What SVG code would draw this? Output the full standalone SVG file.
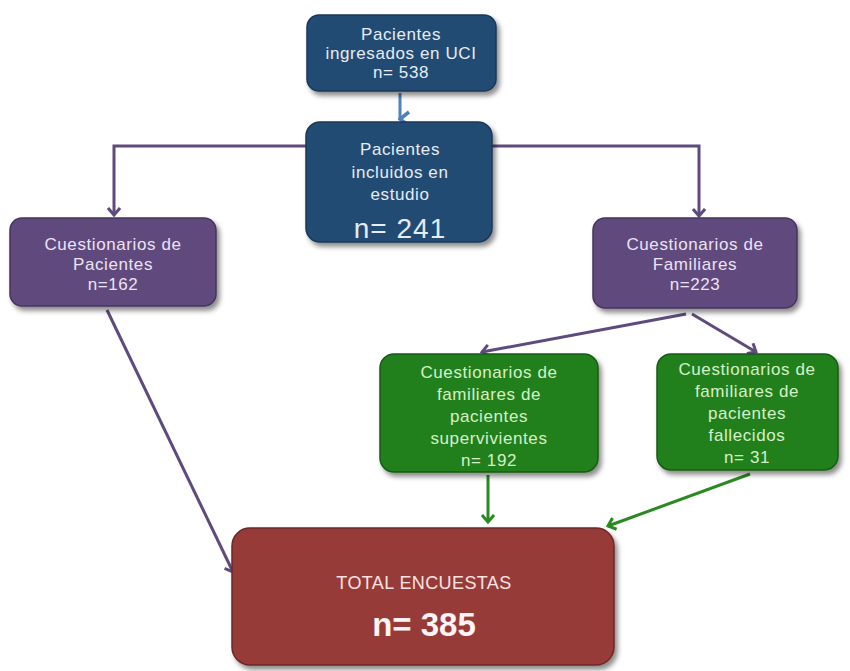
<svg xmlns="http://www.w3.org/2000/svg" width="850" height="671" viewBox="0 0 850 671">
<style>
.box{stroke-width:1.5}
.blue{fill:#244b73;stroke:#1a3757}
.purple{fill:#60497c;stroke:#46345c}
.green{fill:#22801f;stroke:#175c15}
.red{fill:#973a37;stroke:#6e2826}
text{font-family:"Liberation Sans",Arial,sans-serif;text-anchor:middle;font-size:17px;letter-spacing:0.6px}
.tb{fill:#e6ecf4}
.tp{fill:#ebe3f5}
.tg{fill:#d4f0c8}
.tr{fill:#fbe3e3}
.conn{fill:none;stroke-width:3}
</style>
<defs>
<filter id="sh" x="-10%" y="-10%" width="125%" height="130%">
<feDropShadow dx="3" dy="4" stdDeviation="2.5" flood-color="#000" flood-opacity="0.45"/>
</filter>
<marker id="ab" markerWidth="18" markerHeight="14" refX="9" refY="12" orient="auto" markerUnits="userSpaceOnUse" viewBox="0 0 18 14"><polyline points="2,3 9,12 16,3" fill="none" stroke="#4f81bd" stroke-width="3.5"/></marker>
<marker id="ag" markerWidth="14" markerHeight="14" refX="12" refY="7" orient="auto" markerUnits="userSpaceOnUse" viewBox="0 0 14 14"><polyline points="5,1 12,7 5,13" fill="none" stroke="#2a8a22" stroke-width="3"/></marker>
<marker id="ap2" markerWidth="14" markerHeight="14" refX="12" refY="7" orient="auto" markerUnits="userSpaceOnUse" viewBox="0 0 14 14"><polyline points="5,1 12,7 5,13" fill="none" stroke="#5f4a7e" stroke-width="3"/></marker>
</defs>
<rect width="850" height="671" fill="#ffffff"/>
<g id="connectors">
<line class="conn" x1="400" y1="93" x2="400" y2="119" stroke="#4f81bd" marker-end="url(#ab)"/>
<polyline class="conn" points="306,146 114,146 114,215" stroke="#5f4a7e" marker-end="url(#ap2)"/>
<polyline class="conn" points="492,146 699,146 699,216" stroke="#5f4a7e" marker-end="url(#ap2)"/>
<line class="conn" x1="686" y1="314" x2="482" y2="352" stroke="#5f4a7e" marker-end="url(#ap2)"/>
<line class="conn" x1="692" y1="314" x2="756" y2="352" stroke="#5f4a7e" marker-end="url(#ap2)"/>
<line class="conn" x1="107" y1="310" x2="233" y2="572" stroke="#5f4a7e" marker-end="url(#ap2)"/>
<line class="conn" x1="488" y1="475" x2="488" y2="522" stroke="#2a8a22" marker-end="url(#ag)"/>
<line class="conn" x1="750" y1="474" x2="608" y2="526" stroke="#2a8a22" marker-end="url(#ag)"/>
</g>
<g id="n_ingresados">
<rect class="box blue" x="307" y="15" width="189" height="76" rx="12" filter="url(#sh)"/>
<text class="tb" x="401" y="40">Pacientes</text>
<text class="tb" x="401" y="59">ingresados en UCI</text>
<text class="tb" x="401" y="78">n= 538</text>
</g>
<g id="n_incluidos">
<rect class="box blue" x="306" y="122" width="186" height="120" rx="14" filter="url(#sh)"/>
<text class="tb" x="400" y="155">Pacientes</text>
<text class="tb" x="400" y="178">incluidos en</text>
<text class="tb" x="400" y="200">estudio</text>
<text class="tb" x="400" y="238" style="font-size:28px;letter-spacing:1px">n=  241</text>
</g>
<g id="n_pacientes">
<rect class="box purple" x="10" y="218" width="206" height="88" rx="12" filter="url(#sh)"/>
<text class="tp" x="113" y="250">Cuestionarios de</text>
<text class="tp" x="113" y="270">Pacientes</text>
<text class="tp" x="113" y="290">n=162</text>
</g>
<g id="n_familiares">
<rect class="box purple" x="593" y="218" width="204" height="90" rx="12" filter="url(#sh)"/>
<text class="tp" x="695" y="250">Cuestionarios de</text>
<text class="tp" x="695" y="270">Familiares</text>
<text class="tp" x="695" y="290">n=223</text>
</g>
<g id="n_supervivientes">
<rect class="box green" x="380" y="354" width="218" height="118" rx="14" filter="url(#sh)"/>
<text class="tg" x="489" y="378">Cuestionarios de</text>
<text class="tg" x="489" y="400">familiares de</text>
<text class="tg" x="489" y="422">pacientes</text>
<text class="tg" x="489" y="444">supervivientes</text>
<text class="tg" x="489" y="466">n= 192</text>
</g>
<g id="n_fallecidos">
<rect class="box green" x="657" y="354" width="181" height="116" rx="14" filter="url(#sh)"/>
<text class="tg" x="747" y="375">Cuestionarios de</text>
<text class="tg" x="747" y="397">familiares de</text>
<text class="tg" x="747" y="419">pacientes</text>
<text class="tg" x="747" y="441">fallecidos</text>
<text class="tg" x="747" y="463">n= 31</text>
</g>
<g id="n_total">
<rect class="box red" x="232" y="528" width="382" height="137" rx="18" filter="url(#sh)"/>
<text class="tr" x="424" y="589" style="font-size:18px;letter-spacing:0.4px">TOTAL ENCUESTAS</text>
<text class="tr" x="424" y="636" style="font-size:33px;font-weight:bold;fill:#fff3f3;letter-spacing:0">n= 385</text>
</g>
</svg>
